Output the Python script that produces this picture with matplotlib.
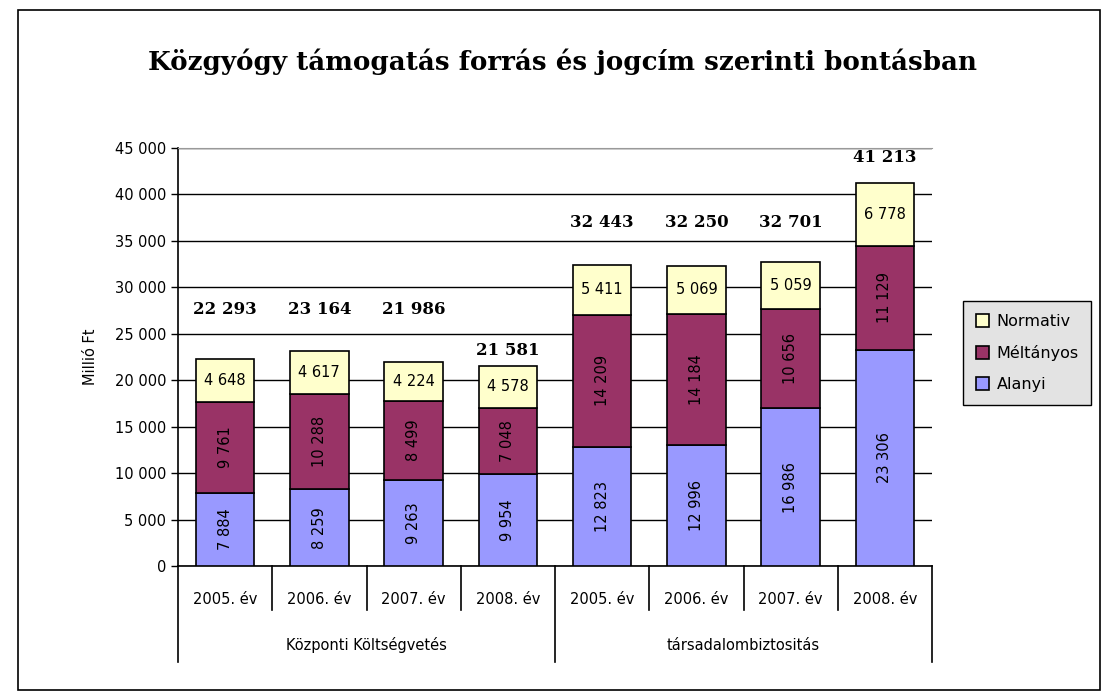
import matplotlib.pyplot as plt
from matplotlib.patches import Rectangle
from matplotlib.ticker import FuncFormatter

# Data (millió Ft)
years = ["2005. év", "2006. év", "2007. év", "2008. év"] * 2
groups = ["Központi Költségvetés", "társadalombiztositás"]
alanyi = [7884, 8259, 9263, 9954, 12823, 12996, 16986, 23306]
meltanyos = [9761, 10288, 8499, 7048, 14209, 14184, 10656, 11129]
normativ = [4648, 4617, 4224, 4578, 5411, 5069, 5059, 6778]
totals = [22293, 23164, 21986, 21581, 32443, 32250, 32701, 41213]

# where the total labels sit (they were placed by hand in the original)
total_label_y = [27600, 27600, 27600, 23250, 37000, 37000, 37000, 44000]

c_alanyi = "#9999FF"
c_melt = "#993366"
c_norm = "#FFFFCC"

def fmt(v):
    return f"{v:,}".replace(",", " ")

fig = plt.figure(figsize=(11.12, 7.0), dpi=100)
fig.patches.append(Rectangle((18 / 1112, 10 / 700), 1082 / 1112, 680 / 700,
                             transform=fig.transFigure, fill=False,
                             edgecolor="black", linewidth=1.2))

ax = fig.add_axes([178 / 1112, 1 - 566 / 700, 754 / 1112, 418 / 700])

x = list(range(len(years)))
w = 0.62
b1 = ax.bar(x, alanyi, w, color=c_alanyi, edgecolor="black", linewidth=1.2,
            label="Alanyi", zorder=3)
b2 = ax.bar(x, meltanyos, w, bottom=alanyi, color=c_melt, edgecolor="black",
            linewidth=1.2, label="Méltányos", zorder=3)
bottom3 = [a + m for a, m in zip(alanyi, meltanyos)]
b3 = ax.bar(x, normativ, w, bottom=bottom3, color=c_norm, edgecolor="black",
            linewidth=1.2, label="Normativ", zorder=3)

for i in x:
    ax.text(i, alanyi[i] / 2, fmt(alanyi[i]), rotation=90, ha="center",
            va="center", fontsize=10.5, zorder=4)
    ax.text(i, alanyi[i] + meltanyos[i] / 2, fmt(meltanyos[i]), rotation=90,
            ha="center", va="center", fontsize=10.5, zorder=4)
    ax.text(i, bottom3[i] + normativ[i] / 2, fmt(normativ[i]), ha="center",
            va="center", fontsize=10.5, zorder=4)
    ax.text(i, total_label_y[i], fmt(totals[i]), ha="center", va="center",
            fontsize=12, fontweight="bold", family="DejaVu Serif", zorder=4)

ax.set_xlim(-0.5, len(years) - 0.5)
ax.set_ylim(0, 45000)
ax.set_yticks(range(0, 45001, 5000))
ax.yaxis.set_major_formatter(FuncFormatter(lambda v, p: fmt(int(v))))
ax.tick_params(axis="y", labelsize=10.5, length=5, width=1, direction="out")
ax.set_xticks([])
ax.grid(axis="y", color="black", linewidth=1, zorder=0)
ax.spines["top"].set_color("#999999")
ax.spines["right"].set_visible(False)
ax.spines["left"].set_linewidth(1.2)
ax.spines["bottom"].set_linewidth(1.2)
ax.set_ylabel("Millió Ft", fontsize=10.5, labelpad=12)

# two-level category axis
tr = ax.get_xaxis_transform()
for i in x:
    ax.text(i, -0.08, years[i], transform=tr, ha="center", va="center",
            fontsize=10.5)
for k in range(len(years) + 1):
    pos = k - 0.5
    low = -0.23 if k % 4 == 0 else -0.105
    ax.plot([pos, pos], [0, low], transform=tr, color="black", linewidth=1.2,
            clip_on=False)
for g, name in enumerate(groups):
    ax.text(g * 4 + 1.5, -0.19, name, transform=tr, ha="center", va="center",
            fontsize=10.5)

ax.legend(handles=[b3, b2, b1], loc="center left",
          bbox_to_anchor=(955 / 1112, 1 - 353 / 700),
          bbox_transform=fig.transFigure, fontsize=11.5, frameon=True,
          fancybox=False, edgecolor="black", facecolor="#E3E3E3",
          framealpha=1, handlelength=0.8, handleheight=0.8,
          handletextpad=0.5, labelspacing=1.0, borderpad=0.8)

fig.text(562 / 1112, 1 - 62 / 700,
         "Közgyógy támogatás forrás és jogcím szerinti bontásban",
         ha="center", va="center", fontsize=18.8, fontweight="bold",
         family="DejaVu Serif")

fig.savefig("out.png", dpi=100)
